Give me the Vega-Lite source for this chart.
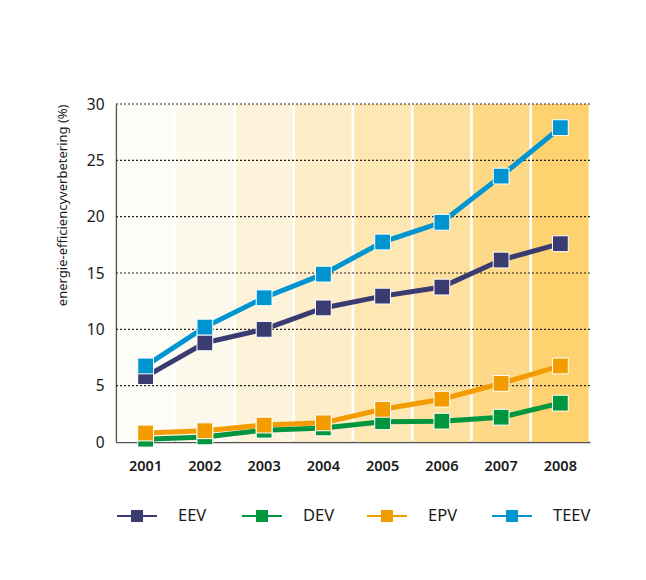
{
  "$schema": "https://vega.github.io/schema/vega-lite/v6.json",
  "autosize": {"type": "none"},
  "width": 474,
  "height": 338,
  "padding": {"left": 116, "top": 104, "right": 56, "bottom": 138},
  "background": "white",
  "config": {
    "view": {"stroke": null},
    "font": "Noto Sans",
    "axis": {"labelFont": "Noto Sans", "titleFont": "Noto Sans"}
  },
  "datasets": {
    "bands": [
      {"year": "2001", "lo": 0, "hi": 30},
      {"year": "2002", "lo": 0, "hi": 30},
      {"year": "2003", "lo": 0, "hi": 30},
      {"year": "2004", "lo": 0, "hi": 30},
      {"year": "2005", "lo": 0, "hi": 30},
      {"year": "2006", "lo": 0, "hi": 30},
      {"year": "2007", "lo": 0, "hi": 30},
      {"year": "2008", "lo": 0, "hi": 30}
    ],
    "grid": [{"v": 5}, {"v": 10}, {"v": 15}, {"v": 20}, {"v": 25}, {"v": 30}],
    "series": [
      {"year": "2001", "series": "DEV", "value": 0.25},
      {"year": "2002", "series": "DEV", "value": 0.45},
      {"year": "2003", "series": "DEV", "value": 1.05},
      {"year": "2004", "series": "DEV", "value": 1.25},
      {"year": "2005", "series": "DEV", "value": 1.8},
      {"year": "2006", "series": "DEV", "value": 1.85},
      {"year": "2007", "series": "DEV", "value": 2.2},
      {"year": "2008", "series": "DEV", "value": 3.45},
      {"year": "2001", "series": "EEV", "value": 5.8},
      {"year": "2002", "series": "EEV", "value": 8.8},
      {"year": "2003", "series": "EEV", "value": 10.0},
      {"year": "2004", "series": "EEV", "value": 11.9},
      {"year": "2005", "series": "EEV", "value": 12.95},
      {"year": "2006", "series": "EEV", "value": 13.75},
      {"year": "2007", "series": "EEV", "value": 16.15},
      {"year": "2008", "series": "EEV", "value": 17.6},
      {"year": "2001", "series": "EPV", "value": 0.8},
      {"year": "2002", "series": "EPV", "value": 1.0},
      {"year": "2003", "series": "EPV", "value": 1.5},
      {"year": "2004", "series": "EPV", "value": 1.7},
      {"year": "2005", "series": "EPV", "value": 2.9},
      {"year": "2006", "series": "EPV", "value": 3.8},
      {"year": "2007", "series": "EPV", "value": 5.2},
      {"year": "2008", "series": "EPV", "value": 6.75},
      {"year": "2001", "series": "TEEV", "value": 6.75},
      {"year": "2002", "series": "TEEV", "value": 10.2},
      {"year": "2003", "series": "TEEV", "value": 12.8},
      {"year": "2004", "series": "TEEV", "value": 14.9},
      {"year": "2005", "series": "TEEV", "value": 17.75},
      {"year": "2006", "series": "TEEV", "value": 19.5},
      {"year": "2007", "series": "TEEV", "value": 23.6},
      {"year": "2008", "series": "TEEV", "value": 27.9}
    ]
  },
  "layer": [
    {
      "data": {"name": "bands"},
      "mark": {"type": "bar", "width": {"band": 0.955}},
      "encoding": {
        "x": {
          "field": "year", "type": "ordinal",
          "scale": {"paddingInner": 0, "paddingOuter": 0},
          "axis": {
            "title": null, "ticks": false, "labelAngle": 0,
            "labelFontSize": 14.5, "labelFontWeight": 600, "labelColor": "#1a1a1a",
            "labelPadding": 17, "domainColor": "#555555", "domainWidth": 1.5
          }
        },
        "y": {
          "field": "hi", "type": "quantitative",
          "scale": {"domain": [0, 30], "nice": false},
          "axis": {
            "title": "energie-efficiencyverbetering (%)",
            "titleFontSize": 13, "titleFontWeight": "normal", "titleColor": "#1a1a1a",
            "titlePadding": 17, "titleAnchor": "end",
            "values": [0, 5, 10, 15, 20, 25, 30],
            "ticks": false, "grid": false,
            "labelFontSize": 15.5, "labelColor": "#1a1a1a", "labelPadding": 12,
            "domainColor": "#555555", "domainWidth": 1.5
          }
        },
        "y2": {"field": "lo"},
        "fill": {
          "field": "year", "type": "ordinal", "legend": null,
          "scale": {"range": ["#fefcf6", "#fdf8ec", "#fdf3db", "#fdedc8", "#fde7b3", "#fde09d", "#fdd886", "#fdd26f"]}
        }
      }
    },
    {
      "data": {"name": "grid"},
      "mark": {"type": "rule", "color": "#222222", "strokeDash": [2, 2], "strokeWidth": 1.2},
      "encoding": {
        "y": {"field": "v", "type": "quantitative"}
      }
    },
    {
      "data": {"name": "series"},
      "mark": {"type": "line", "strokeWidth": 5},
      "encoding": {
        "x": {"field": "year", "type": "ordinal"},
        "y": {"field": "value", "type": "quantitative"},
        "detail": {"field": "series"},
        "color": {
          "field": "series", "type": "nominal",
          "scale": {"domain": ["EEV", "DEV", "EPV", "TEEV"], "range": ["#3a3b70", "#009640", "#f39c00", "#0095d0"]},
          "legend": {
            "title": null, "orient": "bottom", "direction": "horizontal", "columns": 4,
            "gridAlign": "all", "columnPadding": 22, "offset": 22,
            "symbolType": "M-1,0H1M-0.25,-0.25H0.25V0.25H-0.25Z",
            "symbolSize": 1600, "symbolStrokeWidth": 2,
            "labelFontSize": 16.5, "labelColor": "#1a1a1a", "labelOffset": 20,
            "encode": {"symbols": {"update": {"fill": {"scale": "color", "field": "value"}, "stroke": {"scale": "color", "field": "value"}, "opacity": {"value": 1}}}}
          }
        }
      }
    },
    {
      "data": {"name": "series"},
      "mark": {"type": "point", "shape": "square", "filled": true, "size": 250, "opacity": 1, "stroke": "white", "strokeWidth": 1},
      "encoding": {
        "x": {"field": "year", "type": "ordinal"},
        "y": {"field": "value", "type": "quantitative"},
        "fill": {
          "field": "series", "type": "nominal", "legend": null,
          "scale": {"domain": ["EEV", "DEV", "EPV", "TEEV"], "range": ["#3a3b70", "#009640", "#f39c00", "#0095d0"]}
        }
      }
    }
  ],
  "resolve": {"scale": {"fill": "independent"}}
}
